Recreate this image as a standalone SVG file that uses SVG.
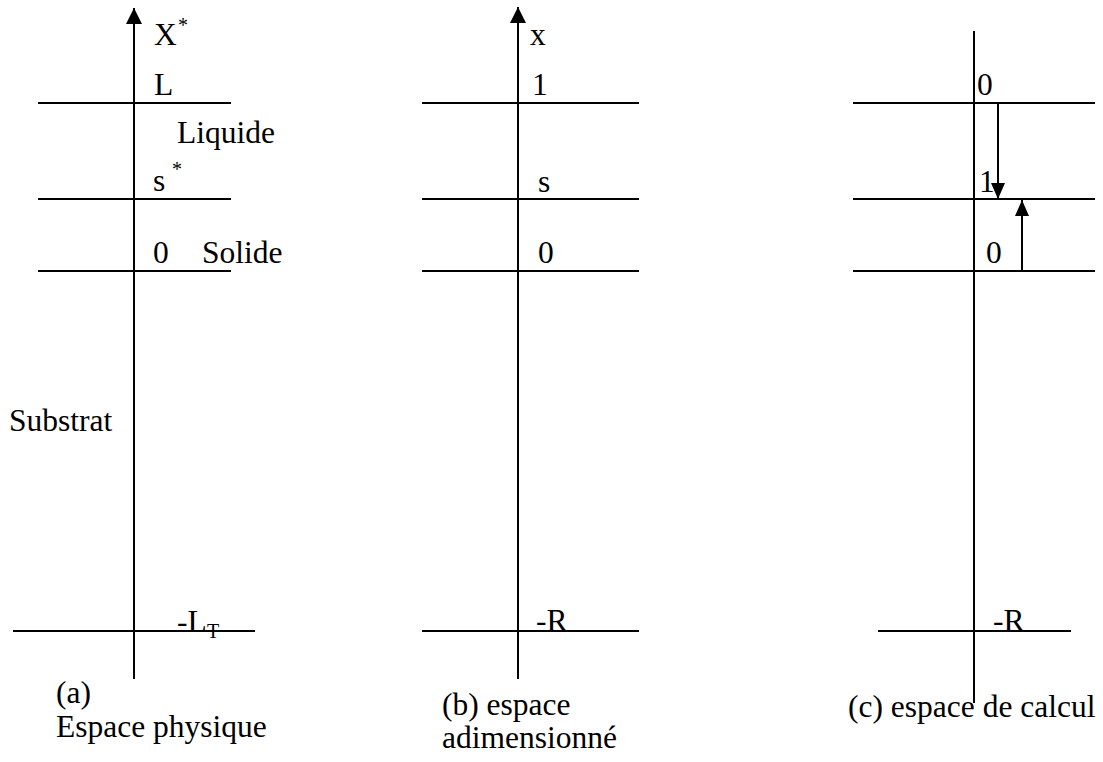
<svg xmlns="http://www.w3.org/2000/svg" width="1103" height="762" viewBox="0 0 1103 762">
<style>
.l{stroke:#000;stroke-width:2;fill:none}
.t{font-family:'Liberation Serif','DejaVu Serif',serif;font-size:31.5px;fill:#000}
.sup{font-size:20px}
</style>
<defs>
<marker id="ah" markerUnits="userSpaceOnUse" markerWidth="16" markerHeight="16" refX="16" refY="8" orient="auto" viewBox="0 0 16 16">
<path d="M0,0 L16,8 L0,16 Z" fill="#000"/>
</marker>
<marker id="ah2" markerUnits="userSpaceOnUse" markerWidth="16" markerHeight="14" refX="16" refY="7" orient="auto" viewBox="0 0 16 14">
<path d="M0,0 L16,7 L0,14 Z" fill="#000"/>
</marker>
</defs>
<rect width="1103" height="762" fill="#fff"/>
<g id="connectors">
<line class="l" x1="134" y1="679" x2="134" y2="8" marker-end="url(#ah)"/>
<line class="l" x1="38" y1="103" x2="231" y2="103"/>
<line class="l" x1="38" y1="199" x2="231" y2="199"/>
<line class="l" x1="38" y1="271" x2="231" y2="271"/>
<line class="l" x1="13" y1="631" x2="255" y2="631"/>
<line class="l" x1="518" y1="679" x2="518" y2="7" marker-end="url(#ah)"/>
<line class="l" x1="422" y1="103" x2="639" y2="103"/>
<line class="l" x1="422" y1="199" x2="639" y2="199"/>
<line class="l" x1="422" y1="271" x2="639" y2="271"/>
<line class="l" x1="422" y1="631" x2="639" y2="631"/>
<line class="l" x1="974" y1="31" x2="974" y2="703"/>
<line class="l" x1="853" y1="103" x2="1095" y2="103"/>
<line class="l" x1="853" y1="199" x2="1095" y2="199"/>
<line class="l" x1="853" y1="271" x2="1095" y2="271"/>
<line class="l" x1="878" y1="631" x2="1071" y2="631"/>
<line class="l" x1="998" y1="103" x2="998" y2="199" marker-end="url(#ah2)"/>
<line class="l" x1="1022" y1="271" x2="1022" y2="200" marker-end="url(#ah2)"/>
</g>
<g id="panel-a" class="t" font-family="Liberation Serif, serif">
<text x="154" y="45">X</text><text class="sup" x="178" y="32">*</text>
<text x="154" y="95">L</text>
<text x="177" y="143">Liquide</text>
<text x="153" y="191">s</text><text class="sup" x="172" y="176">*</text>
<text x="153" y="263">0</text>
<text x="202" y="263">Solide</text>
<text x="9" y="431">Substrat</text>
<text x="177" y="632">-L</text><text x="207" y="638" class="sup">T</text>
<text x="56" y="703">(a)</text>
<text x="56" y="737">Espace physique</text>
</g>
<g id="panel-b" class="t" font-family="Liberation Serif, serif">
<text x="530" y="45">x</text>
<text x="532" y="95">1</text>
<text x="538" y="192">s</text>
<text x="538" y="263">0</text>
<text x="536" y="631">-R</text>
<text x="442" y="715">(b) espace</text>
<text x="442" y="748">adimensionné</text>
</g>
<g id="panel-c" class="t" font-family="Liberation Serif, serif">
<text x="977" y="95">0</text>
<text x="979" y="192">1</text>
<text x="986" y="263">0</text>
<text x="993" y="631">-R</text>
<text x="848" y="717">(c) espace de calcul</text>
</g>
</svg>
